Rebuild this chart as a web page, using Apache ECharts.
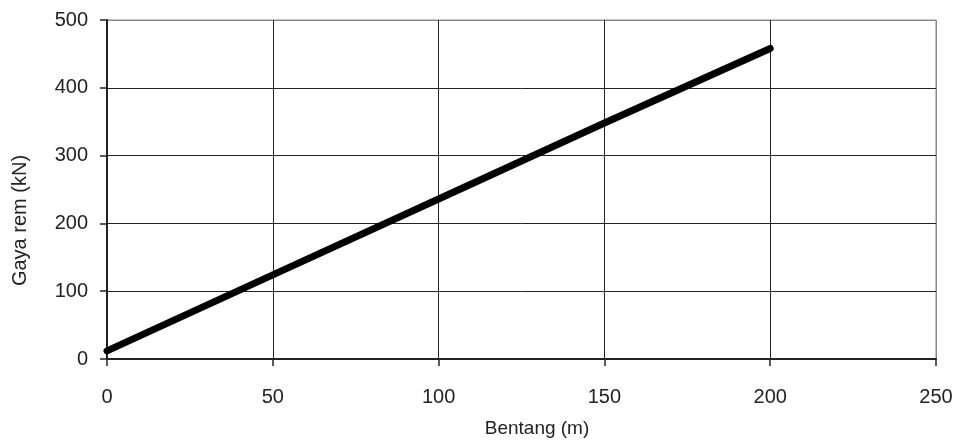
<!DOCTYPE html>
<html>
<head>
<meta charset="utf-8">
<script src="https://cdn.jsdelivr.net/npm/echarts@6/dist/echarts.min.js"></script>
<style>html,body{margin:0;padding:0;background:#fff}#c{width:955px;height:444px}</style>
</head>
<body>
<div id="c"></div>
<script>
const bentang = [0, 50, 100, 150, 200];
const gayaRem = [12, 124, 236, 348, 458];
const xTitle = 'Bentang (m)';
const yTitle = 'Gaya rem (kN)';

const FONT = '"Liberation Sans Narrow", "Arial Narrow", "Liberation Sans", Arial, sans-serif';
const gridColors = ['#222', '#222', '#222', '#222', '#222', '#888'];

const chart = echarts.init(document.getElementById('c'), null, {renderer: 'canvas'});
chart.setOption({
  animation: false,
  backgroundColor: '#fff',
  grid: {left: 107, right: 19, top: 20, bottom: 85, containLabel: false,
         outerBoundsMode: 'none',
         show: true, borderColor: '#888', borderWidth: 1},
  xAxis: {
    type: 'value', min: 0, max: 250, interval: 50,
    name: xTitle, nameLocation: 'middle', nameGap: 60,
    nameTextStyle: {fontFamily: FONT, fontSize: 19, color: '#222', padding: [0, 0, 0, 31]},
    axisLine: {show: true, lineStyle: {color: '#222', width: 2}},
    axisTick: {show: true, length: 7, lineStyle: {color: '#222', width: 1.5}},
    axisLabel: {fontFamily: FONT, fontSize: 20, color: '#222', margin: 28},
    splitLine: {show: true, lineStyle: {color: gridColors, width: 1}}
  },
  yAxis: {
    type: 'value', min: 0, max: 500, interval: 100,
    name: yTitle, nameLocation: 'middle', nameGap: 77, nameRotate: 90,
    nameTextStyle: {fontFamily: FONT, fontSize: 20, color: '#222', padding: [0, 62, 0, 0]},
    axisLine: {show: true, lineStyle: {color: '#222', width: 2}},
    axisTick: {show: true, length: 7, lineStyle: {color: '#222', width: 1.5}},
    axisLabel: {fontFamily: FONT, fontSize: 20, color: '#222', margin: 19},
    splitLine: {show: true, lineStyle: {color: gridColors, width: 1}}
  },
  series: [{
    type: 'line',
    data: bentang.map((x, i) => [x, gayaRem[i]]),
    showSymbol: false,
    lineStyle: {color: '#000', width: 7, cap: 'round', join: 'round'},
    z: 5
  }]
});
</script>
</body>
</html>
